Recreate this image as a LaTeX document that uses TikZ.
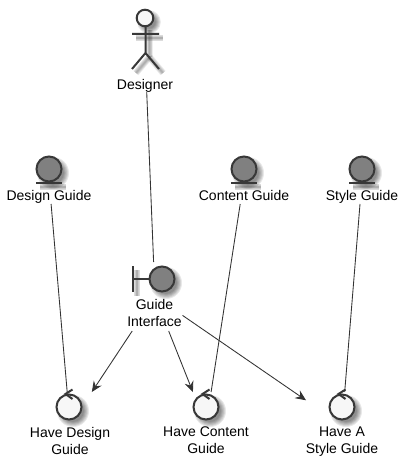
\documentclass[tikz,border=0pt]{standalone}
\usepackage{fontspec}
\setmainfont{Liberation Sans}
\usetikzlibrary{arrows.meta}
\tikzset{
  stroke/.style={draw=black!78,line width=1.5pt},
  lbl/.style={font=\fontsize{10.5pt}{12.75pt}\selectfont,align=center,inner sep=0pt,text=black},
  grp/.style={inner sep=0pt,outer sep=0pt,rectangle},
  conn/.style={draw=black!80,line width=.65pt},
  flow/.style={draw=black!80,line width=.65pt,-{Stealth[length=8pt,width=7pt,inset=2.8pt]}},
  shd/.style={line width=#1,draw=black,opacity=.07},
}
\newcommand{\sq}{\vphantom{Hy}}
\newcommand{\softcirc}[3]{%
  \foreach \d in {3.5,2.5,1.5,.5,-.5,-1.5}{\fill[black,opacity=.09] (#1+4,#2+4) circle ({#3+\d});}}
\newcommand{\softline}[4]{%
  \foreach \w in {5pt,4pt,3pt,2pt,1pt}{\draw[shd=\w] (#1+4,#2+4) -- (#3+4,#4+4);}}
\begin{document}
\begin{tikzpicture}[x=.75pt,y=-.75pt]
\useasboundingbox (0,0) rectangle (409,466);
\fill[white] (0,0) rectangle (409,466);
% soft shadows
\softcirc{145}{18}{8.3}
\softline{132}{34}{159}{34}
\softline{145.5}{26}{145.5}{53}
\softline{145.5}{53}{132}{69}
\softline{145.5}{53}{159}{69}
\softcirc{49}{169}{12.5}
\softline{36}{183}{62}{183}
\softcirc{244}{169}{12.5}
\softline{231}{183}{257}{183}
\softcirc{362}{169}{12.5}
\softline{349}{183}{375}{183}
\softcirc{162}{279}{12.5}
\softline{133}{266}{133}{292}
\softcirc{69}{407}{12.5}
\softcirc{206}{407}{12.5}
\softcirc{342}{407}{12.5}
% group extents used as connector ends
\node[grp,minimum width=56pt*.75,minimum height=84pt*.75] (designer) at (145,50) {};
\node[grp,minimum width=86pt*.75,minimum height=49pt*.75] (dg) at (49,179.5) {};
\node[grp,minimum width=92pt*.75,minimum height=49pt*.75] (cg) at (244,179.5) {};
\node[grp,minimum width=72pt*.75,minimum height=49pt*.75] (sg) at (362,179.5) {};
\node[grp,minimum width=55pt*.75,minimum height=69pt*.75] (gi) at (155,296.5) {};
\node[grp,minimum width=80pt*.75,minimum height=66pt*.75] (hd) at (70,425) {};
\node[grp,minimum width=86pt*.75,minimum height=66pt*.75] (hc) at (206,425) {};
\node[grp,minimum width=72pt*.75,minimum height=66pt*.75] (hs) at (342,425) {};
% actor
\draw[stroke,fill=black!3] (145,18) circle (8.3);
\draw[stroke] (132,34) -- (159,34) (145.5,26.3) -- (145.5,53) (132,69) -- (145.5,53) -- (159,69);
\node[lbl] (designerlabel) at (145,85.5) {Designer\sq};
% entities
\draw[stroke,fill=black!50] (49,169) circle (12.5);
\draw[stroke] (36,183) -- (62,183);
\node[lbl] (dgl) at (49,196.5) {Design Guide\sq};
\draw[stroke,fill=black!50] (244,169) circle (12.5);
\draw[stroke] (231,183) -- (257,183);
\node[lbl] (cgl) at (244,196.5) {Content Guide\sq};
\draw[stroke,fill=black!50] (362,169) circle (12.5);
\draw[stroke] (349,183) -- (375,183);
\node[lbl] (sgl) at (362,196.5) {Style Guide\sq};
% boundary
\draw[stroke] (133,266) -- (133,292) (133,279) -- (149.5,279);
\draw[stroke,fill=black!50] (162,279) circle (12.5);
\node[lbl] (gil) at (154.5,314) {\sq Guide\\Interface\sq};
% controls
\draw[stroke,fill=black!3] (69,407) circle (12.5);
\draw[stroke] (72.5,389.5) -- (65.5,394) -- (72.5,399);
\node[lbl] (hdl) at (70,442) {\sq Have Design\\Guide\sq};
\draw[stroke,fill=black!3] (206,407) circle (12.5);
\draw[stroke] (209.5,389.5) -- (202.5,394) -- (209.5,399);
\node[lbl] (hcl) at (206,442) {\sq Have Content\\Guide\sq};
\draw[stroke,fill=black!3] (342,407) circle (12.5);
\draw[stroke] (345.5,389.5) -- (338.5,394) -- (345.5,399);
\node[lbl] (hsl) at (342,442) {\sq Have A\\Style Guide\sq};
% connectors
\draw[conn] (designer) -- (gi);
\draw[conn] (dg) -- (hd);
\draw[conn] (cg) -- (hc);
\draw[conn] (sg) -- (hs);
\draw[flow] (gi) -- (hd);
\draw[flow] (gi) -- (hc);
\draw[flow] (gi) -- (hs);
\end{tikzpicture}
\end{document}
